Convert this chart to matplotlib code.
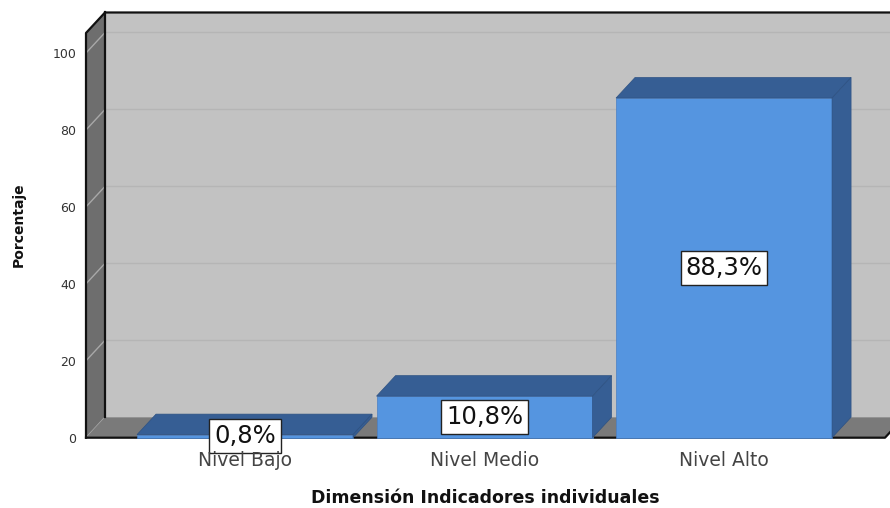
import matplotlib
matplotlib.use("Agg")
import matplotlib.pyplot as plt
from matplotlib.patches import Polygon

categories = ["Nivel Bajo", "Nivel Medio", "Nivel Alto"]
porcentajes = [0.8, 10.8, 88.3]
yticks = [0, 20, 40, 60, 80, 100]
xlabel = "Dimensión Indicadores individuales"
ylabel = "Porcentaje"

# 3D box styling
X0, X1 = -0.664, 2.672        # front floor extent (category units)
YMAX = 105.2                  # top of the front plane
DX, DY = 0.0793, 5.33         # depth offset of the back plane
BAR_W = 0.902

WALL = "#c2c2c2"
SIDE = "#6e6e6e"
FLOOR = "#7a7a7a"
GRID_BACK = "#b5b5b5"
GRID_SIDE = "#a8a8a8"
FRONT = "#5595e0"
SHADE = "#365e94"

fig = plt.figure(figsize=(8.9, 5.08), dpi=100)
ax = fig.add_axes([86 / 890, (508 - 437.7) / 508, 799 / 890, 404.7 / 508])
ax.set_xlim(X0, X1)
ax.set_ylim(0, YMAX)
ax.patch.set_visible(False)
for s in ax.spines.values():
    s.set_visible(False)


def poly(pts, fc, ec="none", lw=0.0, z=1):
    p = Polygon(pts, closed=True, facecolor=fc, edgecolor=ec, linewidth=lw,
                zorder=z, clip_on=False, joinstyle="miter")
    ax.add_patch(p)


# back wall
poly([(X0 + DX, DY), (X1 + DX + 1, DY), (X1 + DX + 1, YMAX + DY), (X0 + DX, YMAX + DY)], WALL, z=0.5)
# left side wall
poly([(X0, 0), (X0 + DX, DY), (X0 + DX, YMAX + DY), (X0, YMAX)], SIDE, z=0.6)
# floor
poly([(X0, 0), (X1, 0), (X1 + DX, DY), (X0 + DX, DY)], FLOOR, z=0.7)

# gridlines on back wall and side wall
for t in yticks:
    if t > 0:
        ax.plot([X0 + DX, X1 + DX + 1], [t + DY, t + DY], color=GRID_BACK, lw=1.0,
                zorder=0.55, clip_on=False)
    ax.plot([X0, X0 + DX], [t, t + DY], color=GRID_SIDE, lw=1.0, zorder=0.65, clip_on=False)

# box outline
edge = dict(color="#111111", lw=1.6, zorder=0.9, clip_on=False, solid_capstyle="projecting")
ax.plot([X0, X0, X0 + DX, X1 + DX + 1], [0, YMAX, YMAX + DY, YMAX + DY], **edge)
ax.plot([X0 + DX, X0 + DX], [DY, YMAX + DY], **edge)
ax.plot([X0, X1, X1 + DX], [0, 0, DY], **edge)

# bars
for i, v in enumerate(porcentajes):
    l, r = i - BAR_W / 2, i + BAR_W / 2
    poly([(l, 0), (r, 0), (r, v), (l, v)], FRONT, ec="#4a7fc4", lw=0.5, z=2)
    poly([(l, v), (r, v), (r + DX, v + DY), (l + DX, v + DY)], SHADE, ec="#2e5283", lw=0.5, z=2)
    poly([(r, 0), (r + DX, DY), (r + DX, v + DY), (r, v)], SHADE, ec="#2e5283", lw=0.5, z=2)
    ax.text(i, v / 2, f"{v:.1f}%".replace(".", ","), ha="center", va="center",
            fontsize=17.5, color="#111111", zorder=3, clip_on=False,
            bbox=dict(boxstyle="square,pad=0.2", facecolor="white",
                      edgecolor="#222222", linewidth=1.0))

ax.set_xticks(range(len(categories)))
ax.set_xticklabels(categories, fontsize=13.5, color="#444444")
ax.set_yticks(yticks)
ax.set_yticklabels([str(t) for t in yticks], fontsize=9, color="#333333")
ax.tick_params(axis="x", length=0, pad=9.5)
ax.tick_params(axis="y", length=0, pad=7)
ax.xaxis.set_zorder(20)

ax.set_xlabel(xlabel, fontsize=12.5, fontweight="bold", color="#111111", labelpad=14)
ax.set_ylabel(ylabel, fontsize=10, fontweight="bold", color="#111111")
ax.yaxis.set_label_coords(-0.075, 0.526)

fig.savefig("out.png", dpi=100)
